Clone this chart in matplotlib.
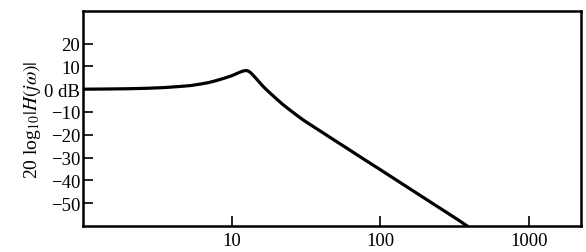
#!/usr/bin/env python

import matplotlib
matplotlib.use('Agg')
import matplotlib.pyplot as plt

# magnitude curve
omega = [1, 1.5, 2, 2.7, 3.5, 4.5, 5.3, 6.1, 7, 7.8, 8.5, 9.2, 10, 10.7,
	11.4, 12, 12.5, 13, 13.5, 14, 14.7, 15.5, 16.3, 17.2, 18.5, 20, 22,
	24.5, 27.4, 30, 33, 40, 50, 60, 75, 100, 130, 170, 220, 280, 330, 382]
mag_db = [0, 0.1, 0.2, 0.4, 0.7, 1.2, 1.6, 2.2, 2.9, 3.7, 4.4, 5.1, 5.9, 6.7,
	7.5, 8.0, 8.2, 7.9, 7.1, 6.0, 4.5, 2.8, 1.2, -0.3, -2.2, -4.2, -6.6,
	-9.0, -11.4, -13.3, -15.1, -18.6, -22.7, -26.0, -30.1, -35.3, -40.1, -45.0, -49.7, -54.1, -57.1, -59.9]

yticks = [20, 10, 0, -10, -20, -30, -40, -50]
ytick_labels = ['20', '10', '0 dB', '\u221210', '\u221220', '\u221230', '\u221240', '\u221250']
xticks = [10, 100, 1000]
xtick_labels = ['10', '100', '1000']

def main():
	plt.rcParams['font.family'] = 'Liberation Serif'
	plt.rcParams['mathtext.fontset'] = 'stix'

	fig = plt.figure(figsize=(5.86, 2.53), dpi=100)
	ax = fig.add_axes([0.1416, 0.1028, 0.8499, 0.8498])

	ax.plot(omega, mag_db, color='black', linewidth=2.3, solid_joinstyle='round')

	ax.set_xscale('log')
	ax.set_xlim(1, 2240)
	ax.set_ylim(-60, 34.3)

	ax.set_xticks(xticks)
	ax.set_xticklabels(xtick_labels)
	ax.xaxis.set_minor_locator(matplotlib.ticker.NullLocator())
	ax.set_yticks(yticks)
	ax.set_yticklabels(ytick_labels)

	ax.tick_params(direction='in', length=7, width=1.2, labelsize=13.5, pad=4)
	ax.tick_params(axis='y', pad=2)
	for s in ax.spines.values():
		s.set_linewidth(1.8)

	ax.set_ylabel(r'20 log$_{10}|H(j\omega)|$', fontsize=14, labelpad=1)

	fig.savefig('out.png', dpi=100)

if __name__ == "__main__":
	main()
